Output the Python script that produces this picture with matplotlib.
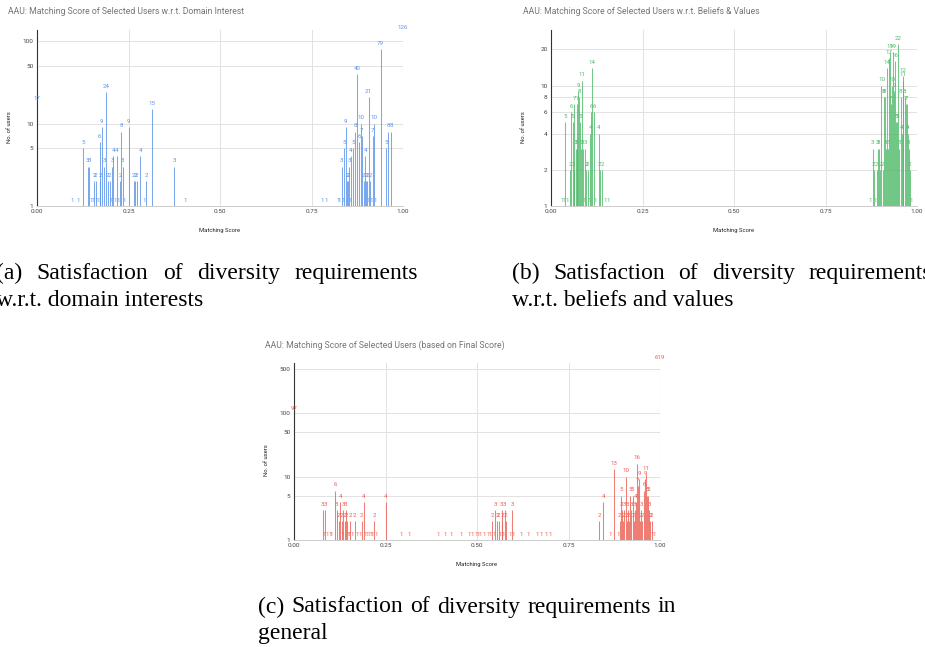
import numpy as np
import matplotlib.pyplot as plt
from matplotlib.ticker import FixedLocator, NullLocator

# (a) domain interest: matching score -> no. of users
a_scores = [0.000, 0.095, 0.112, 0.127, 0.138, 0.143, 0.148, 0.153, 0.156, 0.160, 0.163, 0.167,
            0.171, 0.173, 0.177, 0.184, 0.189, 0.193, 0.199, 0.204, 0.206, 0.209, 0.213, 0.218,
            0.222, 0.228, 0.230, 0.234, 0.237, 0.250, 0.264, 0.269, 0.273, 0.282, 0.292, 0.298,
            0.313, 0.375, 0.406,
            0.778, 0.790, 0.822, 0.827, 0.832, 0.836, 0.840, 0.843, 0.847, 0.850, 0.853, 0.856,
            0.858, 0.864, 0.870, 0.874, 0.881, 0.884, 0.888, 0.893, 0.897, 0.899, 0.902, 0.905,
            0.906, 0.910, 0.913, 0.917, 0.921, 0.925, 0.939, 0.954, 0.960, 0.968, 1.000]
a_counts = [17, 1, 1, 5, 3, 3, 1, 1, 2, 2, 1, 1,
            6, 2, 9, 3, 24, 2, 2, 1, 3, 4, 1, 4,
            1, 2, 8, 3, 1, 9, 2, 2, 2, 4, 1, 2,
            15, 3, 1,
            1, 1, 1, 1, 3, 1, 5, 9, 2, 2, 3, 1,
            4, 5, 8, 40, 6, 10, 7, 2, 4, 2, 2, 1,
            21, 2, 1, 7, 10, 1, 79, 5, 8, 8, 126]

# (b) beliefs & values
b_scores = [0.031, 0.035, 0.039, 0.043, 0.052, 0.056, 0.059, 0.062, 0.064, 0.067, 0.070, 0.072,
            0.074, 0.077, 0.079, 0.082, 0.084, 0.087, 0.090, 0.093, 0.096, 0.100, 0.104, 0.107,
            0.110, 0.113, 0.117, 0.122, 0.130, 0.133, 0.140, 0.148, 0.157,
            0.873, 0.879, 0.882, 0.886, 0.890, 0.893, 0.896, 0.899, 0.903, 0.906, 0.909, 0.912,
            0.915, 0.918, 0.921, 0.924, 0.926, 0.929, 0.932, 0.935, 0.937, 0.940, 0.943, 0.946,
            0.949, 0.952, 0.955, 0.958, 0.961, 0.963, 0.966, 0.969, 0.972, 0.975, 0.978, 0.980,
            0.983]
b_counts = [1, 1, 5, 1, 2, 6, 5, 2, 7, 3, 3, 7,
            9, 8, 5, 3, 11, 3, 1, 3, 2, 2, 1, 4,
            6, 14, 6, 1, 4, 2, 2, 1, 1,
            1, 3, 2, 1, 2, 3, 3, 2, 10, 2, 8, 8,
            3, 14, 3, 17, 19, 7, 10, 19, 9, 16, 5, 5,
            22, 3, 8, 4, 12, 11, 8, 7, 7, 4, 3, 2,
            1]

# (c) final score
c_scores = [0.000, 0.079, 0.083, 0.085, 0.090, 0.098, 0.102, 0.113, 0.117, 0.122, 0.126, 0.130,
            0.133, 0.135, 0.138, 0.141, 0.144, 0.147, 0.150, 0.153, 0.158, 0.166, 0.172, 0.180,
            0.185, 0.190, 0.195, 0.200, 0.205, 0.210, 0.215, 0.219, 0.225, 0.250, 0.292, 0.314,
            0.395, 0.413, 0.430, 0.457, 0.478, 0.487, 0.497, 0.503, 0.510, 0.520, 0.530, 0.537,
            0.541, 0.546, 0.550, 0.555, 0.559, 0.564, 0.567, 0.569, 0.573, 0.576, 0.578, 0.590,
            0.596, 0.600, 0.620, 0.640, 0.665, 0.676, 0.688, 0.699,
            0.834, 0.845, 0.864, 0.875, 0.885, 0.890, 0.893, 0.896, 0.899, 0.902, 0.906, 0.909,
            0.912, 0.915, 0.918, 0.921, 0.925, 0.928, 0.931, 0.934, 0.937, 0.940, 0.943, 0.946,
            0.949, 0.952, 0.956, 0.959, 0.962, 0.965, 0.968, 0.971, 0.974, 0.977, 0.980, 0.985,
            1.000]
c_counts = [97, 3, 1, 3, 1, 1, 1, 6, 3, 2, 4, 2,
            1, 3, 2, 3, 2, 1, 1, 2, 1, 2, 1, 1,
            2, 4, 1, 1, 1, 1, 1, 2, 1, 4, 1, 1,
            1, 1, 1, 1, 1, 1, 1, 1, 1, 1, 1, 1,
            2, 1, 3, 2, 2, 1, 3, 2, 1, 3, 2, 1,
            3, 1, 1, 1, 1, 1, 1, 1,
            2, 4, 1, 13, 1, 2, 5, 3, 2, 3, 10, 2,
            3, 2, 5, 3, 5, 2, 3, 4, 16, 7, 9, 2,
            3, 2, 6, 9, 11, 5, 5, 3, 2, 2, 1, 1,
            619]

W, H = 925, 647
fig = plt.figure(figsize=(W / 100, H / 100), dpi=100)
plt.rcParams['font.family'] = ['Roboto', 'DejaVu Sans']


def px_rect(left, top, right, bottom):
    return [left / W, 1 - bottom / H, (right - left) / W, (bottom - top) / H]


def draw_panel(rect, scores, counts, color, title, title_xy, ytop, yticks):
    ax = fig.add_axes(rect)
    ax.set_yscale('log')
    # very thin columns, drawn as lines so none of them vanish
    ax.vlines(scores, 1, counts, color=color, linewidth=0.75, alpha=0.8, zorder=2)
    for s, c in zip(scores, counts):
        ax.annotate(str(c), (s, c), xytext=(0, 2.3), textcoords='offset points',
                    fontsize=4.4, color=color, ha='center', va='bottom', zorder=3,
                    annotation_clip=False)
    ax.set_xlim(0, 1)
    ax.set_ylim(1, ytop)
    ax.set_xticks([0, 0.25, 0.5, 0.75, 1.0])
    ax.set_xticklabels(['0.00', '0.25', '0.50', '0.75', '1.00'])
    ax.yaxis.set_major_locator(FixedLocator(yticks))
    ax.yaxis.set_minor_locator(NullLocator())
    ax.set_yticklabels([str(t) for t in yticks])
    ax.tick_params(length=0, labelsize=4.6, colors='#444444', pad=2.5)
    ax.set_axisbelow(True)
    ax.grid(color='#e2e2e2', linewidth=0.7)
    for side in ['top', 'right']:
        ax.spines[side].set_visible(False)
    ax.spines['left'].set_color('#333333')
    ax.spines['left'].set_linewidth(0.8)
    ax.spines['bottom'].set_color('#cccccc')
    ax.spines['bottom'].set_linewidth(0.7)
    ax.set_ylabel('No. of users', fontsize=4.2, color='#222222')
    ax.yaxis.set_label_coords(-0.068, 0.45)
    ax.set_xlabel('Matching Score', fontsize=4.2, color='#222222')
    ax.xaxis.set_label_coords(0.5, -0.125)
    fig.text(title_xy[0] / W, 1 - title_xy[1] / H, title, fontsize=6.2, color='#757575',
             ha='left', va='center')
    return ax


draw_panel(px_rect(37, 30, 403, 206), a_scores, a_counts, '#5b93ec',
           'AAU: Matching Score of Selected Users w.r.t. Domain Interest', (8, 12),
           136, [1, 5, 10, 50, 100])
draw_panel(px_rect(551, 30, 917, 206), b_scores, b_counts, '#4fbb6a',
           'AAU: Matching Score of Selected Users w.r.t. Beliefs & Values', (523, 12),
           29, [1, 2, 4, 6, 8, 10, 20])
draw_panel(px_rect(294, 363, 660, 540), c_scores, c_counts, '#ec5f53',
           'AAU: Matching Score of Selected Users (based on Final Score)', (265, 345),
           615, [1, 5, 10, 50, 100, 500])

renderer = fig.canvas.get_renderer()


def caption(words, left, right, y):
    # justified line: words spread evenly between left and right (pixels)
    texts = [fig.text(0, 1 - y / H, w, fontsize=17, family='Liberation Serif',
                      color='black', ha='left', va='center') for w in words]
    widths = [t.get_window_extent(renderer).width for t in texts]
    gap = (right - left - sum(widths)) / max(len(words) - 1, 1) if right else 0
    x = left
    for t, w in zip(texts, widths):
        t.set_x(x / W)
        x += w + gap


caption(['(a)', 'Satisfaction', 'of', 'diversity', 'requirements'], -4, 418, 273)
caption(['w.r.t. domain interests'], -4, None, 301)
caption(['(b)', 'Satisfaction', 'of', 'diversity', 'requirements'], 512, 932, 273)
caption(['w.r.t. beliefs and values'], 512, None, 301)
caption(['(c)', 'Satisfaction', 'of', 'diversity', 'requirements', 'in'], 258, 676, 607)
caption(['general'], 258, None, 633)

fig.savefig('out.png', dpi=100)
